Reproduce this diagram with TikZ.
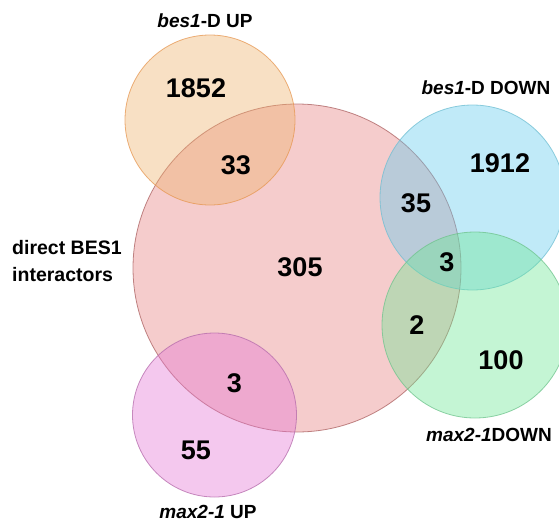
\documentclass[tikz,border=0pt]{standalone}
\usepackage{fontspec}
\setmainfont{Liberation Sans}
\definecolor{cpink}{RGB}{230,127,127}
\definecolor{cpinkd}{RGB}{170,95,95}
\definecolor{corange}{RGB}{237,177,107}
\definecolor{coranged}{RGB}{230,150,80}
\definecolor{cblue}{RGB}{97,202,237}
\definecolor{cblued}{RGB}{110,190,210}
\definecolor{cgreen}{RGB}{107,230,147}
\definecolor{cgreend}{RGB}{110,195,140}
\definecolor{cpurple}{RGB}{227,117,212}
\definecolor{cpurpled}{RGB}{180,105,170}
\begin{document}
\begin{tikzpicture}[x=1pt,y=-1pt,
  vset/.style={circle, inner sep=0pt, fill opacity=0.4, draw opacity=0.75, line width=0.8pt},
  num/.style={font=\fontsize{27}{27}\selectfont\bfseries, inner sep=0pt},
  lab/.style={font=\fontsize{19}{19}\selectfont\bfseries, inner sep=0pt}]
\useasboundingbox (0,0) rectangle (559,522);
\node[vset, fill=cpink, draw=cpinkd, minimum size=328pt] (direct) at (297,268) {};
\node[vset, fill=corange, draw=coranged, minimum size=170pt] (besup) at (210,120) {};
\node[vset, fill=cblue, draw=cblued, minimum size=185pt] (besdown) at (472.5,197.5) {};
\node[vset, fill=cgreen, draw=cgreend, minimum size=186pt] (maxdown) at (475,325) {};
\node[vset, fill=cpurple, draw=cpurpled, minimum size=164pt] (maxup) at (214.5,415) {};
% numbers
\node[num] (n1852) at (196,88) {1852};
\node[num] (n33) at (236,165) {33};
\node[num] (n1912) at (500,163) {1912};
\node[num] (n35) at (416,203) {35};
\node[num] (n3a) at (447,262) {3};
\node[num] (n305) at (300,267) {305};
\node[num] (n2) at (417,325) {2};
\node[num] (n100) at (501,360) {100};
\node[num] (n3b) at (234.5,383) {3};
\node[num] (n55) at (196,450) {55};
% labels
\node[lab] (lbesup) at (205,21) {\itshape bes1\upshape-D UP};
\node[lab] (lbesdown) at (486,88) {\itshape bes1\upshape-D DOWN};
\node[lab] (lmaxup) at (208,512) {\itshape max2-1\upshape\ UP};
\node[lab] (lmaxdown) at (489,435) {\itshape max2-1\upshape DOWN};
\node[font=\fontsize{19.5}{26.5}\selectfont\bfseries, align=left, inner sep=0pt, anchor=west] (ldirect) at (12,261) {direct BES1\\interactors};
\end{tikzpicture}
\end{document}
